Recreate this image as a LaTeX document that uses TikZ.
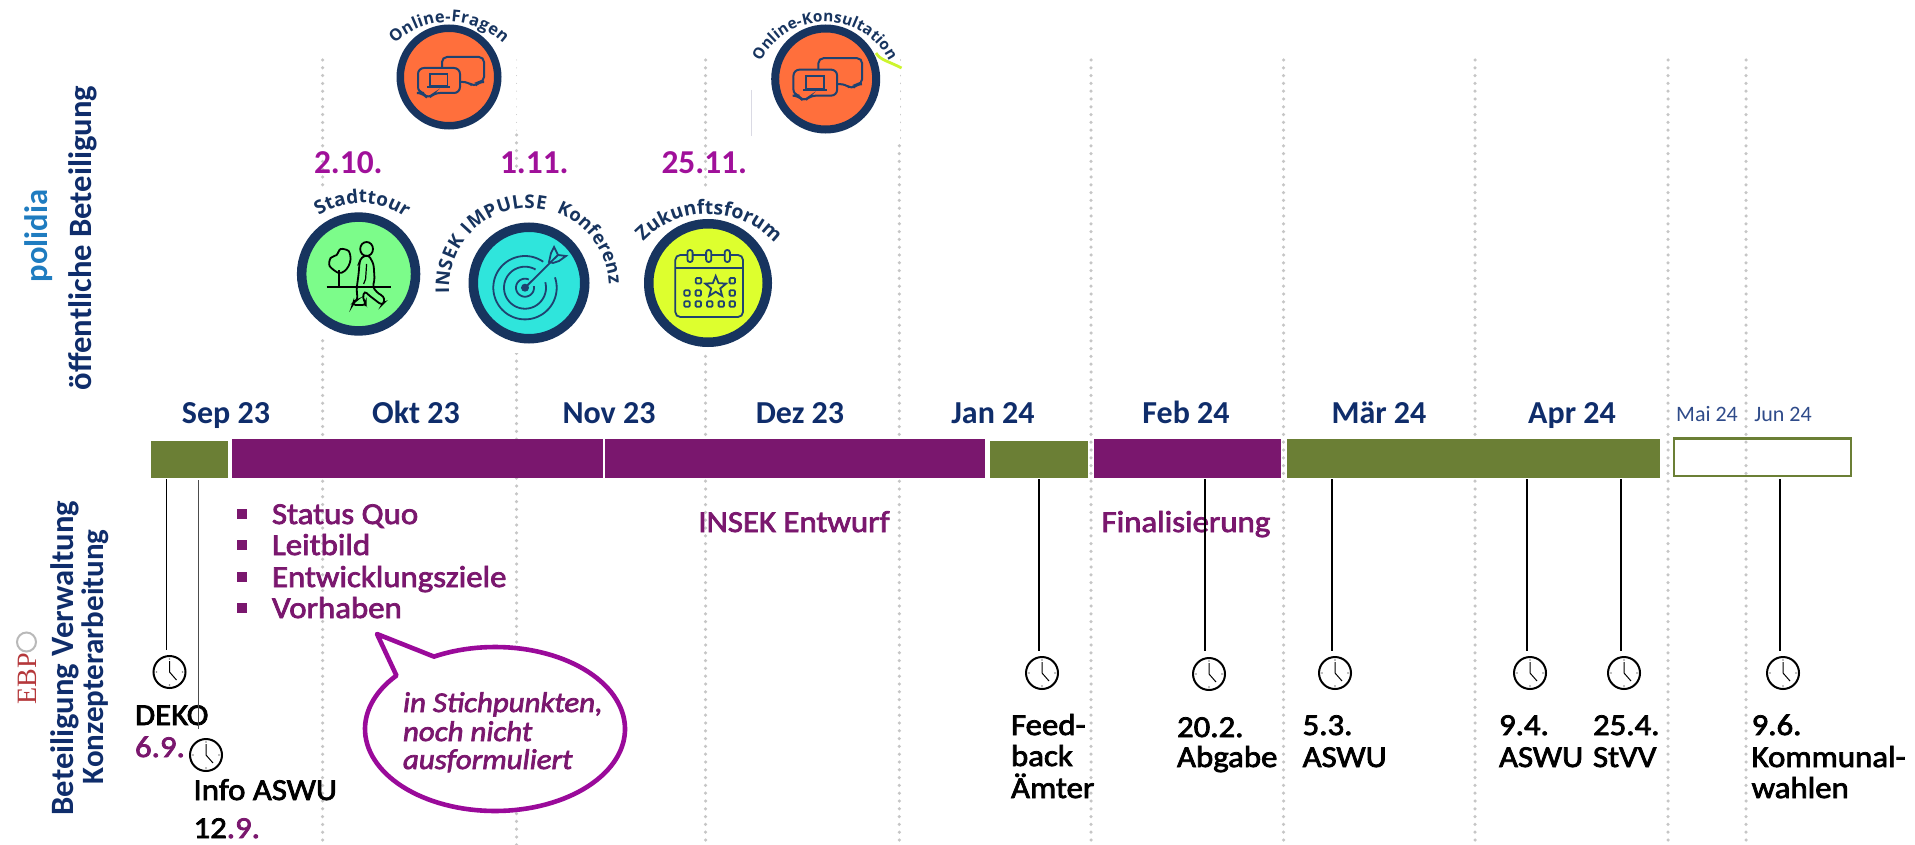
\documentclass[tikz,border=0pt]{standalone}
\usepackage{fontspec}
\setmainfont{Carlito}
\newfontfamily\osans{Open Sans}
\newfontfamily\lserif{Liberation Serif}
\newfontfamily\med[FakeBold=2.5,FakeStretch=1.08]{Carlito}
\usetikzlibrary{decorations.text,shapes.geometric}
\definecolor{navy}{HTML}{0F2D6B}
\definecolor{ringnavy}{HTML}{17345F}
\definecolor{iconblue}{HTML}{1F4270}
\definecolor{barpurple}{HTML}{7A176E}
\definecolor{bargreen}{HTML}{6B7F35}
\definecolor{datepink}{HTML}{A0109A}
\definecolor{bubblepink}{HTML}{9A0A9A}
\definecolor{dotgrey}{HTML}{C6C6C6}
\definecolor{polblue}{HTML}{1F7CC0}
\definecolor{softblue}{HTML}{2F4B8A}
\definecolor{ebpred}{HTML}{B5383B}
\definecolor{roundelorange}{HTML}{FF6F3C}
\definecolor{roundelgreen}{HTML}{7CFC8A}
\definecolor{roundelcyan}{HTML}{2FE5DC}
\definecolor{roundellime}{HTML}{DDFF2E}
\definecolor{limeline}{HTML}{CDF52E}
\newcommand{\fsz}[1]{\fontsize{#1}{#1}\selectfont}
\newcommand{\arclabel}[7]{\path[decorate,decoration={text along path,text align={fit to path},text={|\osans\bfseries\fontsize{#6}{#6}\selectfont\color{ringnavy}|#7}}] plot[domain=#4:#5,samples=50] ({#1+#3*cos(\x)},{#2-#3*sin(\x)});}
\newcommand{\chaticon}[3]{\begin{scope}[shift={(#1,#2)},scale=#3,draw=iconblue,line width=1pt]
\draw[rounded corners=2.5pt] (-7,-9) -- (-7,-20) -- (35,-20) -- (35,5) -- (30,5) -- (25,10) -- (19,5) -- (11,5);
\draw[rounded corners=3pt] (-31,-9) -- (11,-9) -- (11,16) -- (-15,16) -- (-21,22) -- (-26,16) -- (-31,16) -- cycle;
\draw[line width=.8pt] (-19,-3) rectangle (-1.5,9);
\draw[line width=1pt] (-22,10.5) -- (1,10.5);
\end{scope}}
\tikzset{
 dotline/.style={dotgrey,line width=1.75pt,line cap=round,dash pattern=on 0pt off 3.9pt},
 thindot/.style={dotgrey,line width=.5pt,line cap=round,dash pattern=on 0pt off 3.9pt},
 clockface/.style={circle,draw=black,line width=1pt,fill=white,minimum size=16pt,inner sep=0pt},
 stemline/.style={line width=.65pt,black},
 lab/.style={inner sep=0pt,outer sep=0pt,anchor=base west,text=black,font=\med\fsz{15.2}},
 plab/.style={lab,text=barpurple},
 month/.style={inner sep=0pt,outer sep=0pt,anchor=base,text=navy,font=\bfseries\fsz{16}},
 smonth/.style={inner sep=0pt,outer sep=0pt,anchor=base,text=softblue,font=\fsz{11}},
 datelab/.style={inner sep=0pt,outer sep=0pt,anchor=base west,text=datepink,font=\bfseries\fsz{16.7}},
 side/.style={inner sep=0pt,outer sep=0pt,anchor=base,rotate=90,text=navy,font=\bfseries\fsz{16.3}},
 roundel/.style={circle,draw=ringnavy,inner sep=0pt},
 ictext/.style={inner sep=0pt,outer sep=0pt,anchor=base west,text=barpurple,font=\med\itshape\fsz{14.3}},
}
\begin{document}
\begin{tikzpicture}[x=.5pt,y=-.5pt]
\useasboundingbox (0,0) rectangle (1915,845);
\fill[white] (0,0) rectangle (1915,845);
% dotted month rules
\foreach \n/\xx in {a/322.6,c/705.5,d/899.3,e/1091,f/1283.5,g/1475,h/1668,i/1746}{
 \coordinate (dt\n) at (\xx,60); \coordinate (db\n) at (\xx,845);
 \draw[dotline] (dt\n) -- (db\n);}
\coordinate (dtb) at (516.5,135); \coordinate (dbb) at (516.5,845); \coordinate (dtbb) at (516.5,60);
\draw[dotline] (dtb) -- (dbb);
\draw[thindot] (dtbb) -- (dtb);
% white image backgrounds
\fill[white] (290,190) rectangle (440,338);
\fill[white] (440,170) rectangle (620,353);
\fill[white] (630,190) rectangle (790,353);
\fill[white] (750,0) rectangle (900,140);
\draw[line width=.5pt,blue!15!gray!25] (751,90) -- (751,136);
\draw[line width=1.4pt,limeline] (876,53) .. controls (880,60) and (888,61) .. (901.5,68);
% roundels
\node[roundel,fill=roundelorange,minimum size=48.75pt,line width=3.75pt] (fragen) at (449,77) {};
\node[roundel,fill=roundelorange,minimum size=50.5pt,line width=4pt] (konsult) at (825.7,79) {};
\node[roundel,fill=roundelgreen,minimum size=56.95pt,line width=4.75pt] (stadt) at (358.6,274) {};
\node[roundel,fill=roundelcyan,minimum size=55.75pt,line width=4.75pt] (konf) at (529,283) {};
\node[roundel,fill=roundellime,minimum size=59.25pt,line width=4.75pt] (zuk) at (708,283) {};
\arclabel{449}{100}{78}{134}{46}{8.2}{Online-Fragen}
\arclabel{825}{94}{72}{153}{27}{7.7}{Online-Konsultation}
\arclabel{361}{278}{75}{124}{54}{9.5}{Stadttour}
\arclabel{529}{288}{80}{184}{78}{9.4}{INSEK IMPULSE}
\arclabel{529}{288}{80}{70}{5}{9.2}{Konferenz}
\arclabel{708}{304}{90}{136}{44}{9.7}{Zukunftsforum}
\chaticon{449}{77}{1}
\chaticon{825.7}{79}{1.04}
% Stadttour icon
\begin{scope}[shift={(358.6,274)},black,line width=.9pt]
\draw (-32,13) -- (32,13);
\draw (-20,13) -- (-20,-4);
\draw plot[smooth cycle] coordinates {(-20,-1) (-29,-8) (-28,-16) (-22,-19) (-18,-25) (-10,-23) (-8,-15) (-10,-8) (-14,-3)};
\draw (8,-25) ellipse[x radius=3.2pt,y radius=3.5pt];
\draw[rounded corners=1.5pt] (3,-17) -- (10,-19) -- (15,-10) -- (16,6) -- (14,13) -- (20,20) -- (25,22) -- (26,28) -- (23,31) -- (10,21) -- (6,17) -- (4,24) -- (7,29) -- (7,31) -- (-6,31) -- (-5,28) -- (-1,26) -- (-2,15) -- (0,0) -- (1,-12) -- cycle;
\draw[line width=.6pt] (8,-10) -- (7,5) -- (5,10);
\end{scope}
% target icon
\begin{scope}[shift={(529,283)},iconblue,line width=.9pt]
\draw plot[domain=55:379,samples=70] ({-4+31.7*cos(\x)},{4.7-31.7*sin(\x)});
\draw plot[domain=60:375,samples=60] ({-4+21*cos(\x)},{4.7-21*sin(\x)});
\draw plot[domain=65:370,samples=50] ({-4+9*cos(\x)},{4.7-9*sin(\x)});
\fill (-4,4.7) circle[radius=2pt];
\draw (-4,4.7) -- (29,-28);
\draw (20,-21) -- (22,-30) -- (25,-36) -- (29,-28) -- (37,-27) -- (30,-22) -- (24,-20) -- cycle;
\end{scope}
% calendar icon
\begin{scope}[shift={(708,283)},iconblue,line width=.9pt]
\draw[rounded corners=2.5pt] (-32.7,-28) rectangle (35,34);
\draw (-32.7,-15) -- (35,-15);
\foreach \cx in {-18,0.7,19.3}{\draw[fill=roundellime,rounded corners=1.2pt] (\cx-2.6,-33) rectangle (\cx+2.6,-21);}
\foreach \cx/\cy in {-9.5/-2.3,24.3/-2.3,-21/10,-9.7/10,24.3/10,-21/21,-9.7/21,1.7/21,13.3/21,24.3/21}{\draw[rounded corners=.5pt] (\cx-2.7,\cy-2.7) rectangle (\cx+2.7,\cy+2.7);}
\node[star,star points=5,star point ratio=2.3,draw=iconblue,minimum size=11pt,inner sep=0pt,line width=.9pt] (calstar) at (7.7,4) {};
\end{scope}
% dates
\node[datelab] (d1) at (314,174) {2.10.};
\node[datelab] (d2) at (500,174) {1.11.};
\node[datelab] (d3) at (661.5,174) {25.11.};
% left labels
\node[side,text=polblue] (polidia) at (47,236) {polidia};
\node[side] (oeff) at (91,238) {öffentliche Beteiligung};
\node[side] (betv) at (73,658) {Beteiligung Verwaltung};
\node[side,font=\bfseries\fsz{15.5}] (konz) at (103,657) {Konzepterarbeitung};
\node[inner sep=0pt,outer sep=0pt,anchor=base,rotate=90,text=ebpred,font=\lserif\fsz{14}] (ebp) at (36,678.5) {EBP};
\node[circle,draw=gray!55,line width=1pt,minimum size=9.5pt,inner sep=0pt] (ebpring) at (26.5,642) {};
% months
\node[month] (m1) at (226,423) {Sep 23};
\node[month] (m2) at (416,423) {Okt 23};
\node[month] (m3) at (609,423) {Nov 23};
\node[month] (m4) at (800,423) {Dez 23};
\node[month] (m5) at (993,423) {Jan 24};
\node[month] (m6) at (1186,423) {Feb 24};
\node[month] (m7) at (1379,423) {Mär 24};
\node[month] (m8) at (1572,423) {Apr 24};
\node[smonth] (m9) at (1707,421) {Mai 24};
\node[smonth] (m10) at (1783,421) {Jun 24};
% bars
\fill[bargreen] (151,440.5) rectangle (228,478);
\fill[barpurple] (232,439) rectangle (602.5,478);
\fill[barpurple] (605,439) rectangle (985,478);
\fill[bargreen] (990,440.5) rectangle (1088,478);
\fill[barpurple] (1094,439) rectangle (1280.5,478);
\fill[bargreen] (1287,439) rectangle (1660,478);
\draw[bargreen,line width=1.25pt] (1674,438.5) rectangle (1851,476);
% bullets
\foreach \yy in {514,545,577,608}{\fill[barpurple] (237,\yy-5) rectangle (247,\yy+5);}
\node[plab] (s1) at (272,524) {Status Quo};
\node[plab] (s2) at (272,555) {Leitbild};
\node[plab] (s3) at (272,587) {Entwicklungsziele};
\node[plab] (s4) at (272,618) {Vorhaben};
\node[plab,anchor=base] (ent) at (794,532) {INSEK Entwurf};
\node[plab,anchor=base] (fin) at (1186,532) {Finalisierung};
% bubble
\coordinate (tip) at (377,634);
\draw[bubblepink,fill=white,line width=2.3pt,line join=round] plot[domain=118:-220.7,samples=120] ({495+130*cos(\x)},{729-82*sin(\x)}) -- (tip) -- cycle;
\node[ictext] (b1) at (403,712) {in Stichpunkten,};
\node[ictext] (b2) at (403,741) {noch nicht};
\node[ictext] (b3) at (403,769) {ausformuliert};
% milestones
\foreach \n/\lx/\cx/\cy/\by in {c1/166.5/169.5/672/650,c3/1039/1042/673/651,c4/1205/1209/674/651,c5/1332/1335/673/651,c6/1527/1530/673/651,c7/1621/1624/673/651,c8/1780/1783/673/651}{
 \node[clockface] (\n) at (\cx,\cy) {};
 \draw[black,line width=.5pt] (\n.center) ++(0,-11) -- (\n.center) -- ++(7,8);
 \foreach \tx/\tyy in {0/-13,0/13,-13/0,13/0}{\fill[gray] (\n.center) ++(\tx,\tyy) circle[radius=.4pt];}
 \coordinate (\n-top) at (\lx,479); \coordinate (\n-end) at (\lx,\by);
 \draw[stemline] (\n-top) -- (\n-end);
}
\node[clockface] (c2) at (206,755) {};
\draw[black,line width=.5pt] (c2.center) ++(0,-11) -- (c2.center) -- ++(7,8);
\foreach \tx/\tyy in {0/-13,0/13,-13/0,13/0}{\fill[gray] (c2.center) ++(\tx,\tyy) circle[radius=.4pt];}
\coordinate (c2-top) at (198.7,480); \coordinate (c2-end) at (198.7,729);
\node[lab] (l1) at (135,725) {DEKO};
\draw[line width=.75pt,black!70] (c2-top) -- (c2-end);
\node[plab] (l2) at (135,757) {6.9.};
\node[lab] (l3) at (193.5,800) {Info ASWU};
\node[lab] (l4) at (193.5,838) {12\textcolor{barpurple}{.9.}};
\node[lab] (f1) at (1011,735) {Feed-};
\node[lab] (f2) at (1011,766) {back};
\node[lab] (f3) at (1011,798) {Ämter};
\node[lab] (g1) at (1177,737) {20.2.};
\node[lab] (g2) at (1177,767) {Abgabe};
\node[lab] (h1) at (1302.6,735) {5.3.};
\node[lab] (h2) at (1302.6,767) {ASWU};
\node[lab] (i1) at (1499,735) {9.4.};
\node[lab] (i2) at (1499,767) {ASWU};
\node[lab] (j1) at (1593,735) {25.4.};
\node[lab] (j2) at (1593,767) {StVV};
\node[lab] (k1) at (1751.6,735) {9.6.};
\node[lab] (k2) at (1751.6,767) {Kommunal-};
\node[lab] (k3) at (1751.6,798) {wahlen};
\end{tikzpicture}
\end{document}
